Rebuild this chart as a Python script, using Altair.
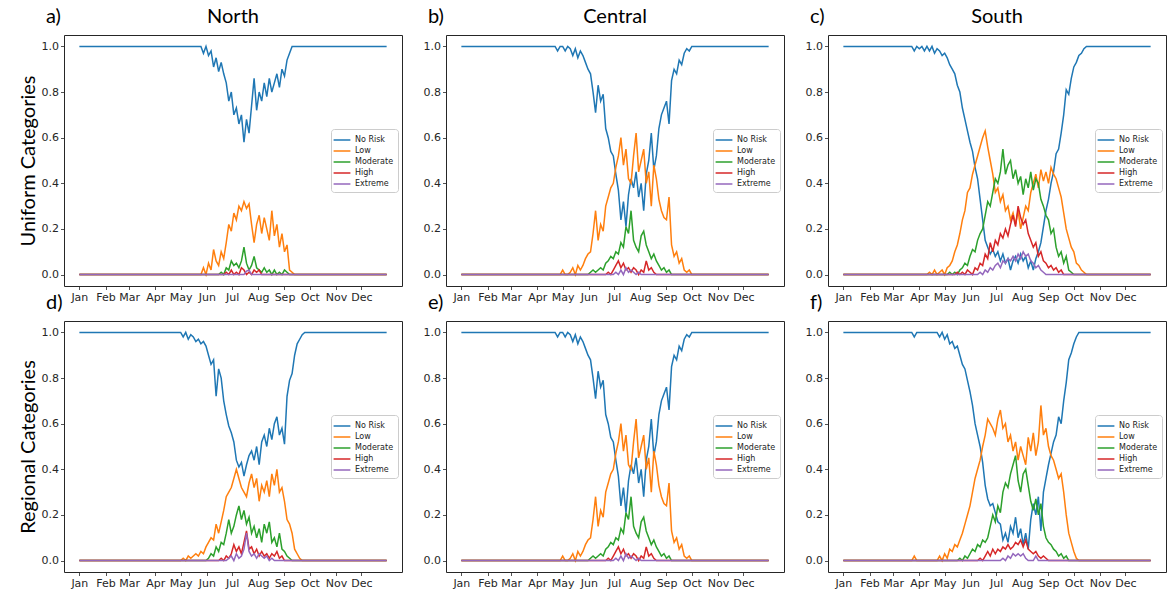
import altair as alt
import pandas as pd

# ---------------- labels / categories ----------------
MONTHS = ["Jan", "Feb", "Mar", "Apr", "May", "Jun", "Jul", "Aug", "Sep", "Oct", "Nov", "Dec"]
MONTH_START_DAYS = [0, 31, 59, 90, 120, 151, 181, 212, 243, 273, 304, 334]
Y_TICKS = [0.0, 0.2, 0.4, 0.6, 0.8, 1.0]
SERIES = ["No Risk", "Low", "Moderate", "High", "Extreme"]
COLORS = ["#1f77b4", "#ff7f0e", "#2ca02c", "#d62728", "#9467bd"]
REGIONS = ["North", "Central", "South"]
LETTERS = ["a)", "b)", "c)", "d)", "e)", "f)"]
ROW_TITLES = ["Uniform Categories", "Regional Categories"]
STEP = 3          # days between read-off samples
LAST_DAY = 364

# ---------------- a) North, uniform ----------------
A_NO = [1.0, 1.0, 0.97, 1.0, 0.96, 0.98, 0.91, 0.95, 0.89, 0.93, 0.88, 0.84, 0.76, 0.80, 0.70,
        0.73, 0.66, 0.70, 0.58, 0.68, 0.62, 0.74, 0.86, 0.72, 0.80, 0.76, 0.84, 0.78, 0.86, 0.80,
        0.84, 0.88, 0.82, 0.90, 0.87, 0.94, 0.97, 1.0, 1.0]
A_LOW = [0, 0, 0.03, 0.0, 0.05, 0.02, 0.11, 0.06, 0.04, 0.10, 0.07, 0.14, 0.22, 0.19, 0.27,
         0.24, 0.30, 0.28, 0.32, 0.29, 0.31, 0.22, 0.14, 0.22, 0.26, 0.18, 0.25, 0.20, 0.15, 0.28,
         0.17, 0.22, 0.12, 0.18, 0.10, 0.13, 0.02, 0.01, 0]
A_MOD = [0, 0.01, 0.0, 0.03, 0.02, 0.06, 0.04, 0.05, 0.03, 0.06, 0.12, 0.05, 0.02, 0.04, 0.08,
         0.03, 0.02, 0.01, 0.03, 0.01, 0.02, 0.0, 0.02, 0.0, 0.01, 0.0, 0.02, 0.01, 0]
A_HIGH = [0, 0.01, 0, 0.02, 0, 0.01, 0.0, 0.03, 0.02, 0.0, 0.01, 0.0, 0.02, 0.01, 0.02, 0.0]
A_EXT = [0, 0.015, 0.02, 0]

# ---------------- b) Central, uniform (e) is the same) ----------------
B_NO = [1.0, 0.98, 1.0, 1.0, 0.98, 1.0, 0.99, 0.96, 0.99, 0.95,
        0.98, 0.96, 0.93, 0.90, 0.88, 0.80, 0.71, 0.83, 0.76, 0.79,
        0.64, 0.60, 0.54, 0.52, 0.44, 0.37, 0.24, 0.32, 0.21, 0.35,
        0.42, 0.38, 0.45, 0.34, 0.40, 0.28, 0.44, 0.50, 0.62, 0.46,
        0.52, 0.64, 0.70, 0.73, 0.76, 0.66, 0.85, 0.90, 0.88, 0.94,
        0.92, 0.97, 0.99, 0.98, 1.0, 1.0]
B_LOW = [0, 0, 0, 0.02, 0, 0, 0.01, 0.03, 0.0, 0.04,
         0.02, 0.04, 0.07, 0.09, 0.10, 0.18, 0.28, 0.15, 0.22, 0.19,
         0.30, 0.34, 0.38, 0.40, 0.47, 0.52, 0.60, 0.48, 0.55, 0.42,
         0.40, 0.52, 0.62, 0.45, 0.50, 0.55, 0.40, 0.45, 0.30, 0.48,
         0.42, 0.33, 0.28, 0.25, 0.24, 0.34, 0.13, 0.08, 0.10, 0.05,
         0.07, 0.02, 0.01, 0.02, 0.0, 0]
B_MOD = [0, 0.01, 0.02, 0.01, 0.02, 0.03, 0.02,
         0.05, 0.06, 0.08, 0.07, 0.10, 0.09, 0.14, 0.12, 0.21, 0.18,
         0.28, 0.15, 0.12, 0.10, 0.17, 0.19, 0.13, 0.10, 0.07, 0.09,
         0.06, 0.04, 0.02, 0.03, 0.01, 0.02, 0.0]
B_HIGH = [0, 0.01, 0.0, 0.02, 0.04, 0.06, 0.03, 0.05, 0.02, 0.03, 0.01,
          0.03, 0.02, 0.0, 0.02, 0.01, 0.06, 0.02, 0.03, 0.01, 0.0]
B_EXT = [0, 0.01, 0.0, 0.02, 0.0, 0.03, 0.01, 0.02, 0.01, 0.0, 0.01, 0.0]

# ---------------- c) South, uniform ----------------
C_NO = [1.0, 0.98, 1.0, 0.99, 1.0, 0.98, 1.0, 0.98, 1.0, 0.97,
        0.99, 0.98, 0.96, 0.97, 0.95, 0.92, 0.90, 0.88, 0.83, 0.80,
        0.73, 0.68, 0.63, 0.58, 0.54, 0.47, 0.42, 0.33, 0.24, 0.15,
        0.12, 0.09, 0.11, 0.08, 0.10, 0.06, 0.09, 0.05, 0.07, 0.02,
        0.06, 0.08, 0.05, 0.09, 0.06, 0.08, 0.03, 0.06, 0.02, 0.07,
        0.10, 0.14, 0.21, 0.28, 0.33, 0.40, 0.45, 0.53, 0.55, 0.62,
        0.70, 0.81, 0.79, 0.86, 0.91, 0.93, 0.96, 0.97, 0.99, 1.0]
C_LOW = [0, 0.01, 0, 0.02, 0.0, 0.01, 0.02, 0.0, 0.03, 0.04,
         0.06, 0.10, 0.13, 0.18, 0.24, 0.28, 0.36, 0.38, 0.44, 0.48,
         0.52, 0.56, 0.60, 0.63, 0.56, 0.50, 0.44, 0.36, 0.38, 0.32,
         0.35, 0.28, 0.30, 0.24, 0.27, 0.22, 0.28, 0.20, 0.25, 0.30,
         0.28, 0.36, 0.40, 0.44, 0.38, 0.46, 0.41, 0.45, 0.40, 0.47,
         0.44, 0.42, 0.38, 0.34, 0.27, 0.20, 0.16, 0.12, 0.10, 0.05,
         0.04, 0.02, 0.01, 0]
C_MOD = [0, 0.01, 0.0, 0.01, 0.0, 0.02, 0.03, 0.05, 0.04, 0.08,
         0.11, 0.10, 0.15, 0.18, 0.20, 0.26, 0.32, 0.30, 0.36, 0.42,
         0.40, 0.45, 0.55, 0.44, 0.48, 0.50, 0.42, 0.46, 0.40, 0.43,
         0.35, 0.42, 0.38, 0.45, 0.37, 0.42, 0.40, 0.33, 0.30, 0.26,
         0.24, 0.18, 0.20, 0.12, 0.08, 0.10, 0.05, 0.08, 0.02, 0.01,
         0]
C_HIGH = [0, 0.01, 0.0, 0.01, 0.0, 0.02, 0.01, 0.0, 0.03, 0.02,
          0.05, 0.04, 0.09, 0.07, 0.14, 0.10, 0.15, 0.13, 0.18, 0.16,
          0.20, 0.17, 0.22, 0.26, 0.21, 0.30, 0.25, 0.22, 0.24, 0.18,
          0.15, 0.12, 0.14, 0.08, 0.10, 0.06, 0.05, 0.03, 0.04, 0.02,
          0.03, 0.01, 0.02, 0.0]
C_EXT = [0, 0.01, 0.0, 0.02, 0.01, 0.03, 0.02, 0.04, 0.05, 0.03,
         0.06, 0.05, 0.07, 0.06, 0.08, 0.06, 0.09, 0.07, 0.10, 0.08,
         0.09, 0.06, 0.05, 0.03, 0.04, 0.02, 0.01, 0.0]

# ---------------- d) North, regional ----------------
D_NO = [1.0, 0.98, 1.0, 0.97, 0.99, 0.98, 0.96, 0.97, 0.95, 0.96,
        0.94, 0.90, 0.86, 0.88, 0.72, 0.84, 0.80, 0.70, 0.64, 0.59,
        0.56, 0.52, 0.44, 0.41, 0.43, 0.37, 0.42, 0.46, 0.48, 0.44,
        0.50, 0.42, 0.52, 0.55, 0.50, 0.58, 0.53, 0.60, 0.63, 0.55,
        0.58, 0.51, 0.72, 0.79, 0.82, 0.90, 0.95, 0.97, 0.99, 1.0]
D_LOW = [0, 0.01, 0, 0.02, 0.01, 0.02, 0.03, 0.02, 0.04, 0.03,
         0.06, 0.08, 0.10, 0.09, 0.16, 0.12, 0.17, 0.22, 0.28, 0.30,
         0.32, 0.36, 0.40, 0.36, 0.32, 0.30, 0.28, 0.34, 0.38, 0.32,
         0.36, 0.26, 0.33, 0.30, 0.35, 0.28, 0.38, 0.33, 0.40, 0.30,
         0.32, 0.26, 0.18, 0.16, 0.12, 0.05, 0.03, 0.01, 0.0]
D_MOD = [0, 0.01, 0.03, 0.02, 0.06, 0.04, 0.08, 0.07, 0.12, 0.18,
         0.12, 0.15, 0.20, 0.24, 0.18, 0.22, 0.16, 0.19, 0.12, 0.15,
         0.10, 0.14, 0.08, 0.16, 0.12, 0.17, 0.08, 0.10, 0.06, 0.12,
         0.05, 0.04, 0.02, 0.01, 0]
D_HIGH = [0, 0.01, 0.0, 0.02, 0.01, 0.03, 0.07, 0.04, 0.06, 0.03,
          0.08, 0.13, 0.05, 0.06, 0.03, 0.05, 0.02, 0.04, 0.02, 0.03,
          0.01, 0.03, 0.02, 0.04, 0.01, 0.02, 0.0]
D_EXT = [0, 0.01, 0.02, 0.0, 0.03, 0.01, 0.02, 0.05, 0.12, 0.04,
         0.02, 0.03, 0.01, 0.03, 0.02, 0.01, 0.02, 0.0, 0.01, 0]

# ---------------- f) South, regional ----------------
F_NO = [1.0, 0.98, 1.0, 1.0, 1.0, 1.0, 1.0, 1.0, 1.0, 1.0,
        1.0, 0.98, 1.0, 0.97, 0.99, 0.95, 0.96, 0.93, 0.94, 0.90,
        0.86, 0.84, 0.79, 0.74, 0.68, 0.60, 0.55, 0.50, 0.43, 0.33,
        0.27, 0.24, 0.25, 0.21, 0.17, 0.16, 0.09, 0.12, 0.08, 0.15,
        0.12, 0.19, 0.10, 0.14, 0.07, 0.12, 0.05, 0.18, 0.25, 0.20,
        0.28, 0.13, 0.30, 0.36, 0.42, 0.47, 0.52, 0.55, 0.63, 0.60,
        0.70, 0.78, 0.88, 0.91, 0.95, 0.98, 1.0]
F_LOW = [0, 0.02, 0, 0, 0, 0, 0, 0, 0, 0,
         0.0, 0.02, 0.0, 0.03, 0.01, 0.05, 0.04, 0.07, 0.06, 0.09,
         0.12, 0.16, 0.20, 0.24, 0.30, 0.36, 0.40, 0.44, 0.50, 0.55,
         0.62, 0.60, 0.58, 0.55, 0.62, 0.66, 0.58, 0.60, 0.52, 0.55,
         0.48, 0.52, 0.44, 0.50, 0.46, 0.42, 0.54, 0.48, 0.56, 0.46,
         0.52, 0.68, 0.55, 0.58, 0.50, 0.46, 0.44, 0.40, 0.36, 0.38,
         0.30, 0.20, 0.12, 0.08, 0.04, 0.01, 0.0]
F_MOD = [0, 0.01, 0.0, 0.02, 0.01, 0.03, 0.05, 0.04, 0.07, 0.06,
         0.09, 0.08, 0.10, 0.15, 0.20, 0.17, 0.24, 0.21, 0.30, 0.34,
         0.32, 0.38, 0.42, 0.46, 0.35, 0.30, 0.38, 0.40, 0.33, 0.26,
         0.22, 0.27, 0.20, 0.25, 0.15, 0.10, 0.08, 0.07, 0.05, 0.04,
         0.02, 0.03, 0.01, 0.02, 0.0]
F_HIGH = [0, 0.01, 0.0, 0.02, 0.04, 0.02, 0.05, 0.03, 0.05, 0.04,
          0.06, 0.05, 0.07, 0.05, 0.06, 0.08, 0.07, 0.09, 0.06, 0.09,
          0.05, 0.04, 0.03, 0.04, 0.02, 0.01, 0.02, 0.01, 0.0]
F_EXT = [0, 0.01, 0.0, 0.02, 0.01, 0.03, 0.02, 0.03, 0.02, 0.03,
         0.01, 0.0, 0.0, 0.0, 0.02, 0.0]

# (first sampled day, values) for every panel and series
PANELS = [
    {"No Risk": (141, A_NO), "Low": (141, A_LOW), "Moderate": (165, A_MOD),
     "High": (171, A_HIGH), "Extreme": (195, A_EXT)},
    {"No Risk": (111, B_NO), "Low": (111, B_LOW), "Moderate": (150, B_MOD),
     "High": (171, B_HIGH), "Extreme": (180, B_EXT)},
    {"No Risk": (81, C_NO), "Low": (99, C_LOW), "Moderate": (123, C_MOD),
     "High": (132, C_HIGH), "Extreme": (159, C_EXT)},
    {"No Risk": (120, D_NO), "Low": (120, D_LOW), "Moderate": (150, D_MOD),
     "High": (165, D_HIGH), "Extreme": (174, D_EXT)},
    {"No Risk": (111, B_NO), "Low": (111, B_LOW), "Moderate": (150, B_MOD),
     "High": (171, B_HIGH), "Extreme": (180, B_EXT)},
    {"No Risk": (81, F_NO), "Low": (81, F_LOW), "Moderate": (135, F_MOD),
     "High": (159, F_HIGH), "Extreme": (186, F_EXT)},
]


def panel_frame(spec):
    rows = []
    for s in SERIES:
        start, vals = spec[s]
        base = 1.0 if s == "No Risk" else 0.0
        days = [0] + [start + STEP * i for i in range(len(vals))] + [LAST_DAY]
        values = [base] + list(vals) + [base]
        for d, v in zip(days, values):
            rows.append({"day": d, "value": v, "series": s})
    return pd.DataFrame(rows)


MONTH_EXPR = ("[" + ",".join("'%s'" % m for m in MONTHS) + "][indexof(["
              + ",".join(str(d) for d in MONTH_START_DAYS) + "], datum.value)]")

W, H = 338, 251
TITLE_FONT = "Lato"
TICK_FONT = "DejaVu Sans"

color_scale = alt.Scale(domain=SERIES, range=COLORS)
legend = alt.Legend(
    title=None, orient="none", legendX=W - 71, legendY=94,
    fillColor="white", strokeColor="#cccccc", cornerRadius=3, padding=4,
    labelFont=TICK_FONT, labelFontSize=8, labelColor="#222222", labelOffset=6,
    symbolType="M-1.4,0H1.4", symbolSize=144, symbolStrokeWidth=1.5, rowPadding=0,
)


def text_layer(label, x_px, y_px, align):
    return (alt.Chart(pd.DataFrame({"label": [label]}))
            .mark_text(font=TITLE_FONT, fontSize=20, align=align,
                       baseline="alphabetic", color="black")
            .encode(text="label:N", x=alt.value(x_px), y=alt.value(y_px)))


def make_panel(idx):
    row, col = divmod(idx, 3)
    df = panel_frame(PANELS[idx])
    x = alt.X("day:Q",
              scale=alt.Scale(domain=[-18.2, LAST_DAY + 18.2], nice=False, zero=False),
              axis=alt.Axis(values=MONTH_START_DAYS, labelExpr=MONTH_EXPR, title=None,
                            grid=False, domain=False, labelOverlap=False, labelFlush=False))
    y_axis_kw = dict(values=Y_TICKS, format=".1f", grid=False, domain=False)
    if col == 0:
        y_axis_kw.update(title=ROW_TITLES[row], titleFont=TITLE_FONT, titleFontSize=20,
                         titleFontWeight="normal", titleColor="black", titlePadding=3)
    else:
        y_axis_kw.update(title=None)
    y = alt.Y("value:Q", scale=alt.Scale(domain=[-0.05, 1.05], nice=False, zero=False),
              axis=alt.Axis(**y_axis_kw))
    layers = []
    for s in SERIES:
        layers.append(
            alt.Chart(df).transform_filter(alt.datum.series == s)
            .mark_line(strokeWidth=1.5)
            .encode(x=x, y=y, color=alt.Color("series:N", scale=color_scale, legend=legend))
        )
    if row == 0:
        # panel letter and region name above this panel, letter of the panel below it
        layers.append(text_layer(LETTERS[idx], -18, -12, "left"))
        layers.append(text_layer(REGIONS[col], W / 2, -12, "center"))
        layers.append(text_layer(LETTERS[idx + 3], -18, H + 23, "left"))
    return alt.layer(*layers).properties(width=W, height=H)


row1 = alt.hconcat(*[make_panel(i) for i in range(3)], spacing=19).resolve_scale(color="independent")
row2 = alt.hconcat(*[make_panel(i) for i in range(3, 6)], spacing=19).resolve_scale(color="independent")

chart = (
    alt.vconcat(row1, row2, spacing=6)
    .resolve_scale(color="independent")
    .properties(padding={"left": 17, "top": 6, "right": 0, "bottom": 0}, background="white")
    .configure_view(stroke="#262626", strokeWidth=1)
    .configure_axis(tickSize=3.5, tickColor="#262626", tickWidth=0.8,
                    labelFont=TICK_FONT, labelFontSize=11, labelColor="#262626",
                    labelPadding=2)
)

chart.save("out.html", embed_options={"renderer": "svg", "actions": False})
